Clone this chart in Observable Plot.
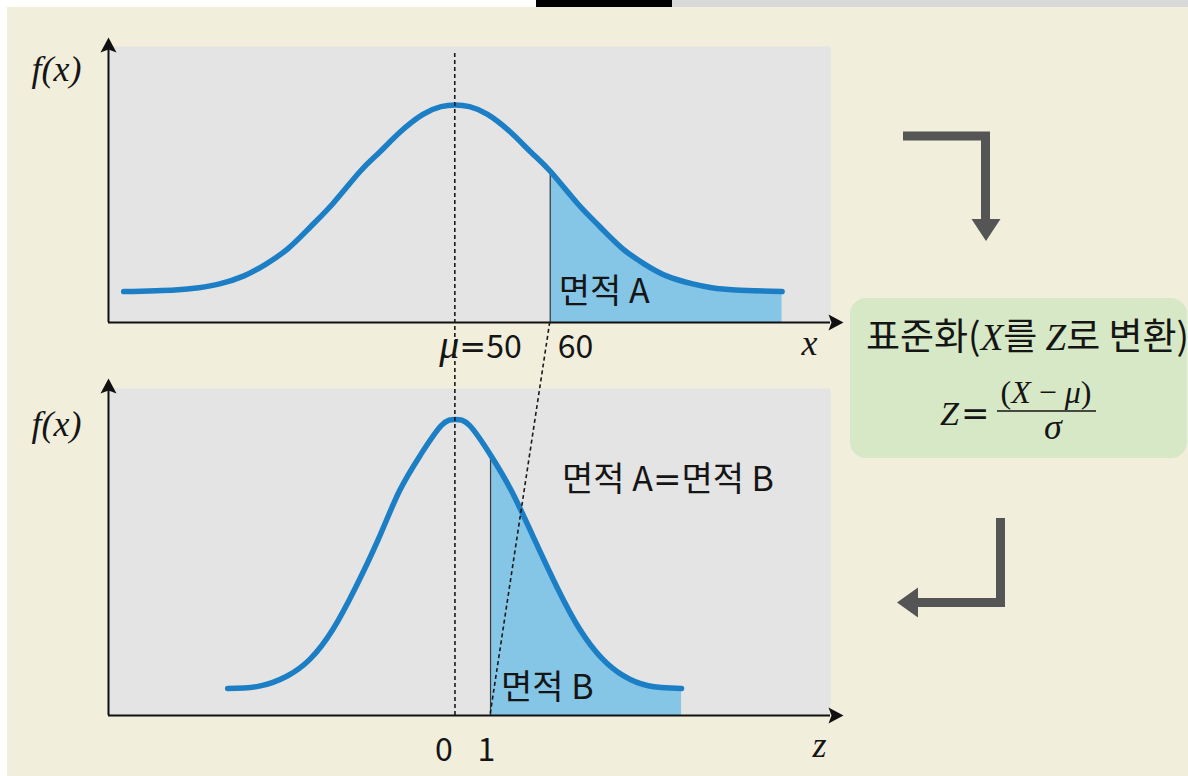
<!DOCTYPE html>
<html>
<head>
<meta charset="utf-8">
<script src="https://cdn.jsdelivr.net/npm/d3@7"></script>
<script src="https://cdn.jsdelivr.net/npm/@observablehq/plot@0.6"></script>
<style>
  html, body { margin: 0; padding: 0; }
  body { width: 1188px; height: 776px; overflow: hidden; background: #f1eedc; position: relative; }
  .abs { position: absolute; }
</style>
</head>
<body>
<div class="abs" style="left:0;top:0;width:536px;height:7px;background:#ffffff"></div>
<div class="abs" style="left:536px;top:0;width:136px;height:7px;background:#000000"></div>
<div class="abs" style="left:672px;top:0;width:516px;height:7px;background:#d8d8d8"></div>
<div class="abs" style="left:0;top:0;width:7px;height:776px;background:#ffffff"></div>
<div id="top" class="abs" style="left:0;top:0"></div>
<div id="bottom" class="abs" style="left:0;top:370px"></div>
<div class="abs" style="left:850px;top:298px;width:337px;height:160px;border-radius:16px;background:#d6e8c5"></div>
<svg id="overlay" class="abs" width="1188" height="776" style="left:0;top:0;pointer-events:none"></svg>
<script>
// ---------------- data ----------------
// top panel: original variable X (mean 50)
const topX = [15.1, 20.5, 23, 25.2, 27.7, 30, 32.4, 34.8, 37.2, 40, 42, 44.2, 46.6, 48.5, 50, 51.5, 53.4, 55.8, 58, 60, 62.8, 65.2, 67.6, 70, 72.3, 75, 77, 79.5, 84.4];
const topF = [0.0056, 0.0059, 0.0063, 0.0070, 0.0084, 0.0105, 0.0134, 0.0174, 0.0217, 0.0274, 0.0308, 0.0345, 0.0377, 0.0391, 0.0394, 0.0391, 0.0377, 0.0345, 0.0308, 0.0274, 0.0217, 0.0174, 0.0134, 0.0105, 0.0084, 0.0070, 0.0063, 0.0059, 0.0056];
const topTicks = [50, 60];
const topTickLabels = ["μ=50", "60"];
const topBoundary = 60;
const topXDomain = [13.5, 89.5];
const topYDomain = [0, 0.05];

// bottom panel: standardized variable Z
const botZ = [-6.5, -5.6, -4.8, -4.15, -3.5, -2.85, -2.2, -1.6, -1, -0.4, 0, 0.4, 1, 1.6, 2.25, 2.9, 3.55, 4.2, 4.8, 5.5, 6.45];
const botF = [0.0363, 0.0395, 0.0532, 0.0758, 0.1157, 0.1723, 0.2373, 0.3020, 0.3505, 0.3903, 0.3984, 0.3903, 0.3505, 0.3020, 0.2373, 0.1723, 0.1157, 0.0758, 0.0532, 0.0400, 0.0363];
const botTicks = [0, 1];
const botTickLabels = ["0", "1"];
const botBoundary = 1;
const botXDomain = [-9.9, 10.7];
const botYDomain = [0, 0.44];

// texts
const yLabel = "f(x)";
const topAxisLabel = "x";
const botAxisLabel = "z";
const areaLabelA = "면적 A";
const areaLabelB = "면적 B";
const equalLabel = "면적 A=면적 B";
const boxTitle = "표준화(X를 Z로 변환)";
const formulaLeft = "Z=";
const formulaNum = "(X − μ)";
const formulaDen = "σ";

// ---------------- styles ----------------
const SERIF = "'Liberation Serif','DejaVu Serif',serif";
const SANS = "'Noto Sans CJK KR','Noto Sans',sans-serif";
const PANEL = "#e4e4e4";
const BLUE = "#1c7ec4";
const SHADE = "#85c5e6";
const AXIS = "#111111";
const INK = "#151515";
const CURVE = "natural";

const arrowUp = {draw(c, size) { const s = Math.sqrt(size / Math.PI);
  c.moveTo(0, 0); c.lineTo(-8 * s, 15 * s); c.lineTo(0, 12 * s); c.lineTo(8 * s, 15 * s); c.closePath(); }};
const arrowRight = {draw(c, size) { const s = Math.sqrt(size / Math.PI);
  c.moveTo(0, 0); c.lineTo(-15 * s, -8 * s); c.lineTo(-12 * s, 0); c.lineTo(-15 * s, 8 * s); c.closePath(); }};

const topData = topX.map((x, i) => ({x, f: topF[i]}));
const botData = botZ.map((z, i) => ({x: z, f: botF[i]}));

function panel({data, xDomain, yDomain, ticks, tickLabels, tickDx, tickDy, boundary, height, marginTop, marginBottom, arrowDy, ylabelDy, axisLabel, axisDx, axisDy, extra}) {
  const fb = data.find(d => d.x === boundary).f;
  return Plot.plot({
    width: 860, height,
    marginLeft: 108, marginRight: 30, marginTop, marginBottom,
    x: {domain: xDomain, axis: null},
    y: {domain: yDomain, axis: null},
    style: {background: "transparent", overflow: "visible"},
    marks: [
      Plot.frame({fill: PANEL, stroke: "none"}),
      Plot.areaY(data.filter(d => d.x >= boundary), {x: "x", y: "f", fill: SHADE, curve: CURVE}),
      Plot.ruleX([boundary], {y1: 0, y2: fb, stroke: "#3a3a3a", strokeWidth: 1.2}),
      Plot.line(data, {x: "x", y: "f", stroke: BLUE, strokeWidth: 5.5, curve: CURVE}),
      Plot.ruleY([0], {stroke: AXIS, strokeWidth: 2}),
      Plot.ruleX([xDomain[0]], {stroke: AXIS, strokeWidth: 2}),
      Plot.dot([0], {frameAnchor: "top-left", dy: arrowDy, symbol: arrowUp, r: 1, fill: AXIS, stroke: "none"}),
      Plot.dot([0], {frameAnchor: "bottom-right", dx: 13, symbol: arrowRight, r: 1, fill: AXIS, stroke: "none"}),
      ...ticks.map((t, i) => Plot.text([t], {x: d => d, text: () => tickLabels[i], frameAnchor: "bottom", lineAnchor: "middle",
        textAnchor: "start", dx: tickDx[i], dy: tickDy, fontSize: 32, fontFamily: SANS, fill: INK})),
      Plot.text([yLabel], {frameAnchor: "top-left", lineAnchor: "middle", text: d => d, dx: -52, dy: ylabelDy, textAnchor: "middle",
        fontSize: 36, fontFamily: SERIF, fontStyle: "italic", fill: INK}),
      Plot.text([axisLabel], {frameAnchor: "bottom-right", lineAnchor: "middle", text: d => d, dx: axisDx, dy: axisDy, textAnchor: "middle",
        fontSize: 36, fontFamily: SERIF, fontStyle: "italic", fill: INK}),
      ...extra
    ]
  });
}

const topPlot = panel({
  data: topData, xDomain: topXDomain, yDomain: topYDomain, ticks: topTicks, tickLabels: topTickLabels,
  tickDx: [-16, 7.5], tickDy: 25, boundary: topBoundary, height: 370, marginTop: 46, marginBottom: 48,
  arrowDy: -9, ylabelDy: 23, axisLabel: topAxisLabel, axisDx: -21, axisDy: 21,
  extra: [
    Plot.text([areaLabelA], {x: () => topBoundary, frameAnchor: "bottom", lineAnchor: "middle", text: d => d, textAnchor: "start",
      dx: 8.5, dy: -30, fontSize: 34, fontFamily: SANS, fill: INK})
  ]
});

const botPlot = panel({
  data: botData, xDomain: botXDomain, yDomain: botYDomain, ticks: botTicks, tickLabels: botTickLabels,
  tickDx: [-20.5, -13], tickDy: 35.5, boundary: botBoundary, height: 406, marginTop: 18, marginBottom: 61,
  arrowDy: -10, ylabelDy: 36, axisLabel: botAxisLabel, axisDx: -11, axisDy: 30,
  extra: [
    Plot.text([areaLabelB], {x: () => botBoundary, frameAnchor: "bottom", lineAnchor: "middle", text: d => d, textAnchor: "start",
      dx: 10.5, dy: -27, fontSize: 34, fontFamily: SANS, fill: INK}),
    Plot.text([equalLabel], {x: () => botBoundary, frameAnchor: "top", lineAnchor: "middle", text: d => d, textAnchor: "start",
      dx: 71.5, dy: 92, fontSize: 34, fontFamily: SANS, fill: INK})
  ]
});

// style μ (italic serif) and the wide "=" inside Plot texts
function styleSpecial(svg) {
  d3.select(svg).selectAll("text").each(function () {
    const t = this.textContent;
    if (!/[μ=]/.test(t)) return;
    const parts = t.split(/([μ=])/).filter(s => s);
    this.textContent = "";
    for (const p of parts) {
      const ts = d3.select(this).append("tspan").text(p);
      if (p === "μ") ts.attr("font-family", SERIF).attr("font-style", "italic").attr("font-size", 40);
      else if (p === "=") ts.attr("font-family", "DejaVu Sans");
    }
  });
}
styleSpecial(topPlot);
styleSpecial(botPlot);

document.getElementById("top").appendChild(topPlot);
document.getElementById("bottom").appendChild(botPlot);

// ---------------- overlay: connectors, arrows, formula box ----------------
const BOT_OFF = 370;
const ov = d3.select("#overlay");
const tx = topPlot.scale("x"), ty = topPlot.scale("y");
const bx = botPlot.scale("x"), by = botPlot.scale("y");

// μ dashed line through both panels
ov.append("line")
  .attr("x1", tx.apply(topTicks[0])).attr("y1", ty.apply(topYDomain[1]) + 7)
  .attr("x2", bx.apply(botTicks[0])).attr("y2", by.apply(0) + BOT_OFF)
  .attr("stroke", "#1a1a1a").attr("stroke-width", 1.6).attr("stroke-dasharray", "4,3");
// 60 -> 1 dashed connector
ov.append("line")
  .attr("x1", tx.apply(topBoundary)).attr("y1", ty.apply(0))
  .attr("x2", bx.apply(botBoundary)).attr("y2", by.apply(0) + BOT_OFF)
  .attr("stroke", "#1a1a1a").attr("stroke-width", 1.6).attr("stroke-dasharray", "4,3");

// right-hand flow arrows
const GREY = "#555555";
ov.append("polyline").attr("points", "903,136 985.5,136 985.5,221")
  .attr("fill", "none").attr("stroke", GREY).attr("stroke-width", 9).attr("stroke-linejoin", "miter");
ov.append("polygon").attr("points", "971.5,219 1000.5,219 986,241").attr("fill", GREY);
ov.append("polyline").attr("points", "1000.5,518 1000.5,602.5 916,602.5")
  .attr("fill", "none").attr("stroke", GREY).attr("stroke-width", 9).attr("stroke-linejoin", "miter");
ov.append("polygon").attr("points", "918,587.5 918,617.5 897,602.5").attr("fill", GREY);

// box title
function styledText(sel, str, italicRe, otherFamily) {
  str.split(italicRe).filter(s => s).forEach(p => {
    const ts = sel.append("tspan").text(p);
    if (p.length === 1 && italicRe.test(p)) ts.attr("font-family", SERIF).attr("font-style", "italic");
    else ts.attr("font-family", otherFamily);
  });
}
const title = ov.append("text").attr("x", 866).attr("y", 350).attr("font-size", 37).attr("fill", INK);
styledText(title, boxTitle, /([XZ])/, SANS);

// formula Z = (X − μ)/σ
const fz = ov.append("text").attr("x", 940).attr("y", 425).attr("font-size", 34).attr("fill", INK);
fz.append("tspan").text(formulaLeft[0]).attr("font-family", SERIF).attr("font-style", "italic");
fz.append("tspan").text(formulaLeft.slice(1)).attr("font-family", "'DejaVu Serif',serif").attr("dx", 2);
const num = ov.append("text").attr("x", 1046).attr("y", 403).attr("font-size", 32).attr("fill", INK).attr("text-anchor", "middle");
styledText(num, formulaNum, /([Xμ])/, SERIF);
ov.append("line").attr("x1", 997).attr("x2", 1096).attr("y1", 411).attr("y2", 411).attr("stroke", INK).attr("stroke-width", 1.5);
ov.append("text").attr("x", 1053).attr("y", 439).attr("font-size", 36).attr("fill", INK).attr("text-anchor", "middle")
  .attr("font-family", SERIF).attr("font-style", "italic").text(formulaDen);
</script>
</body>
</html>
